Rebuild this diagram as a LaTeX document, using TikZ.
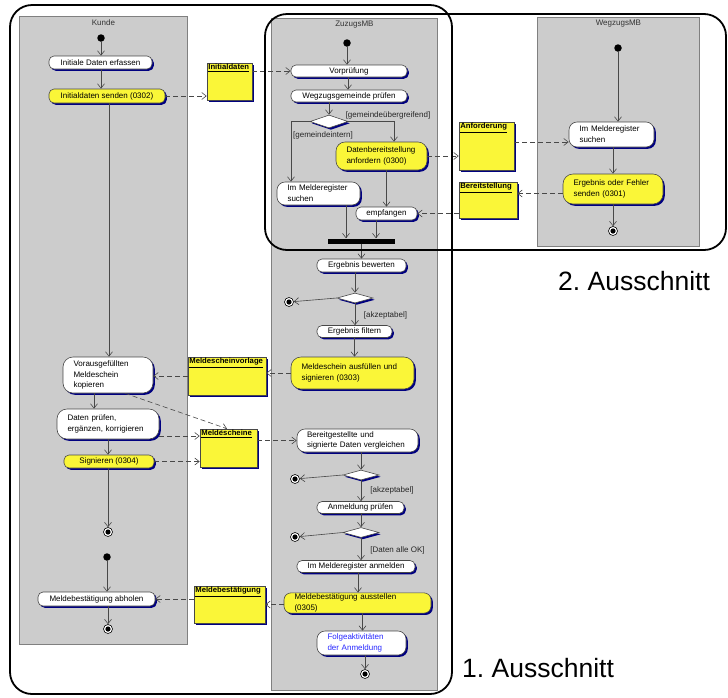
\documentclass[tikz,border=0pt]{standalone}
\usepackage{fontspec}
\setmainfont{Liberation Sans}
\usetikzlibrary{arrows.meta,shapes.geometric,shadows,calc}
\definecolor{ylw}{RGB}{250,246,56}
\definecolor{lanec}{RGB}{204,204,204}
\definecolor{laneb}{RGB}{128,128,128}
\definecolor{linec}{RGB}{72,72,72}
\definecolor{shad}{RGB}{0,0,128}
\definecolor{bluetxt}{RGB}{40,40,255}
\newcommand\dfont{\fontsize{8}{10.8}\selectfont}
\newcommand\tfont{\fontsize{7.7}{9}\selectfont\bfseries}
\begin{document}
\begin{tikzpicture}[x=1pt,y=-1pt,
  sz/.style 2 args={minimum width=#1pt,minimum height=#2pt},
  ml/.style={align=left,text width=#1pt},
  shd/.style={drop shadow={shadow xshift=1.8pt,shadow yshift=-1.8pt,fill=shad,opacity=1}},
  act/.style={shd,draw=linec,line width=0.6pt,fill=white,font=\dfont,inner sep=1pt,rounded corners=5pt},
  yact/.style={act,fill=ylw},
  obj/.style={shd,draw=linec,line width=0.6pt,fill=ylw,inner sep=0pt},
  otitle/.style={label={[anchor=north west,inner sep=1.5pt,font=\tfont]north west:\underline{#1}}},
  dec/.style={shd,diamond,draw=linec,line width=0.6pt,fill=white,inner sep=0pt},
  startn/.style={circle,fill=black,inner sep=0pt,minimum size=7.5pt},
  endn/.style={circle,draw=black,line width=0.6pt,fill=white,inner sep=0pt,minimum size=9pt,
    path picture={\fill[black] (path picture bounding box.center) circle (2.6pt);}},
  barn/.style={fill=black,inner sep=0pt},
  flow/.style={draw=linec,line width=0.6pt,-{Straight Barb[length=4.5pt,width=7pt]}},
  dflow/.style={flow,dash pattern=on 5pt off 3pt},
  lane/.style={draw=laneb,line width=0.8pt,fill=lanec,inner sep=0pt},
  lanelbl/.style={anchor=north,inner sep=0pt,yshift=-3pt,font=\dfont,text=black!80},
  lbl/.style={inner sep=0pt,font=\dfont,text=black!85},
  frame/.style={draw=black,line width=1.8pt,rounded corners=22pt},
  big/.style={anchor=base west,inner sep=0pt,font=\fontsize{26.5}{30}\selectfont}
]
\useasboundingbox (0,0) rectangle (728,697);

% swimlanes
\node[lane,anchor=north west,sz={168}{628},label={[lanelbl]north:Kunde}] (lk) at (19,16) {};
\node[lane,anchor=north west,sz={166}{672},label={[lanelbl]north:ZuzugsMB}] (lz) at (271,18) {};
\node[lane,anchor=north west,sz={162}{229},label={[lanelbl]north:WegzugsMB}] (lw) at (537,17) {};

% Kunde
\node[startn] (k0) at (101,38) {};
\node[act,sz={103}{13}] (k1) at (100.5,62.5) {Initiale Daten erfassen};
\node[yact,sz={116}{14}] (k2) at (107,96) {Initialdaten senden (0302)};
\node[act,sz={90}{36},rounded corners=10pt,ml=69] (k3) at (108,375) {Vorausgefüllten\\Meldeschein\\kopieren};
\node[act,sz={102}{30},rounded corners=10pt,ml=81] (k4) at (108,424) {Daten prüfen,\\ergänzen, korrigieren};
\node[yact,sz={90}{13}] (k5) at (109,461.5) {Signieren (0304)};
\node[endn] (k6) at (108,532) {};
\node[startn] (k7) at (107,557) {};
\node[act,sz={117}{14}] (k8) at (96.5,599) {Meldebestätigung abholen};
\node[endn] (k9) at (108,629) {};

% objects
\node[obj,sz={45}{37},otitle=Initialdaten] (o1) at (229.5,81.5) {};
\node[obj,sz={78}{38},otitle=Meldescheinvorlage] (o2) at (227,376) {};
\node[obj,sz={57}{38},otitle=Meldescheine] (o3) at (228.5,448) {};
\node[obj,sz={71}{37},otitle=Meldebestätigung] (o4) at (229.5,604.5) {};
\node[obj,sz={55}{48},otitle=Anforderung] (o5) at (486.5,146) {};
\node[obj,sz={58}{36},otitle=Bereitstellung] (o6) at (488,200) {};

% ZuzugsMB
\node[startn] (z0) at (347,43) {};
\node[act,sz={116}{12}] (z1) at (349,71) {Vorprüfung};
\node[act,sz={116}{12}] (z2) at (349,96) {Wegzugsgemeinde prüfen};
\node[dec,sz={38}{13}] (zd1) at (329,121.5) {};
\node[yact,sz={91}{28},rounded corners=9pt,ml=70] (z3) at (381.5,156) {Datenbereitstellung\\anfordern (0300)};
\node[act,sz={83}{23},rounded corners=8pt,ml=62] (z4) at (318.5,193.5) {Im Melderegister\\suchen};
\node[act,sz={61}{13}] (z5) at (386.5,213.5) {empfangen};
\node[barn,sz={67}{5}] (zb) at (361.5,241) {};
\node[act,sz={89}{13}] (z6) at (361.5,265.5) {Ergebnis bewerten};
\node[dec,sz={36}{10}] (zd2) at (355,298) {};
\node[endn] (ze1) at (289,302) {};
\node[act,sz={75}{12}] (z7) at (354.5,331.5) {Ergebnis filtern};
\node[yact,sz={123}{32},rounded corners=10pt,ml=102] (z8) at (352.5,373) {Meldeschein ausfüllen und\\signieren (0303)};
\node[act,sz={121}{23},rounded corners=8pt,ml=101] (z9) at (357.5,440.5) {Bereitgestellte und\\signierte Daten vergleichen};
\node[dec,sz={36}{10}] (zd3) at (361,475) {};
\node[endn] (ze2) at (295,479) {};
\node[act,sz={87}{12}] (z10) at (360.5,507.5) {Anmeldung prüfen};
\node[dec,sz={36}{10}] (zd4) at (361,532.5) {};
\node[endn] (ze3) at (295,537) {};
\node[act,sz={118}{12}] (z11) at (356,566.5) {Im Melderegister anmelden};
\node[yact,sz={147}{20},rounded corners=7pt,ml=126] (z12) at (357.5,603) {Meldebestätigung ausstellen\\(0305)};
\node[act,sz={89}{24},rounded corners=8pt,ml=68,text=bluetxt] (z13) at (361.5,643) {Folgeaktivitäten\\der Anmeldung};
\node[endn] (ze4) at (365,674) {};

% WegzugsMB
\node[startn] (w0) at (618,48) {};
\node[act,sz={85}{25},rounded corners=8pt,ml=64] (w1) at (611.5,134.5) {Im Melderegister\\suchen};
\node[yact,sz={100}{30},rounded corners=10pt,ml=79] (w2) at (613,189) {Ergebnis oder Fehler\\senden (0301)};
\node[endn] (we) at (613,231) {};

% guard labels
\node[lbl] (c1) at (323,135) {[gemeindeintern]};
\node[lbl] (c2) at (388,115) {[gemeindeübergreifend]};
\node[lbl] (c3) at (385.5,315) {[akzeptabel]};
\node[lbl] (c4) at (392,490.5) {[akzeptabel]};
\node[lbl] (c5) at (397.5,550.5) {[Daten alle OK]};

% control flows Kunde
\draw[flow] (k0) -- (k0 |- k1.north);
\draw[flow] (k1.south -| k0) -- (k2.north -| k0);
\draw[flow] ([xshift=1pt]k3.north |- k2.south) -- ([xshift=1pt]k3.north);
\draw[flow] ([xshift=-14pt]k3.south) -- ([xshift=-14pt]k3.south |- k4.north);
\draw[flow] (k4.south) -- (k4.south |- k5.north);
\draw[flow] (k5.south -| k6) -- (k6);
\draw[flow] (k7) -- (k7 |- k8.north);
\draw[flow] (k8.south -| k9) -- (k9);

% control flows ZuzugsMB
\draw[flow] (z0) -- (z0 |- z1.north);
\draw[flow] ([xshift=-1pt]z1.south) -- ([xshift=-1pt]z2.north);
\draw[flow] (z2.south -| zd1) -- (zd1.north);
\draw[flow] (zd1.west) -| ([xshift=-27.5pt]z4.north);
\draw[flow] (zd1.east) -| ([xshift=12.5pt]z3.north);
\draw[flow] (z3.south -| z5.north) -- (z5.north);
\draw[flow] ([xshift=27.5pt]z4.south) -- ([xshift=27.5pt]z4.south |- zb.north);
\draw[flow] ([xshift=-10.5pt]z5.south) -- ([xshift=-10.5pt]z5.south |- zb.north);
\draw[flow] (zb.south -| z6.north) -- (z6.north);
\draw[flow] (z6.south -| zd2.north) -- (zd2.north);
\draw[flow] (zd2.west) -- (ze1);
\draw[flow] (zd2.south) -- (zd2.south |- z7.north);
\draw[flow] (z7.south) -- (z7.south |- z8.north);
\draw[flow] (z9.south -| zd3.north) -- (zd3.north);
\draw[flow] (zd3.west) -- (ze2);
\draw[flow] (zd3.south) -- (zd3.south |- z10.north);
\draw[flow] (z10.south -| zd4.north) -- (zd4.north);
\draw[flow] (zd4.west) -- (ze3);
\draw[flow] (zd4.south) -- (zd4.south |- z11.north);
\draw[flow] ([xshift=2pt]z11.south) -- ([xshift=2pt]z11.south |- z12.north);
\draw[flow] ([xshift=5pt]z12.south) -- ([xshift=5pt]z12.south |- z13.north);
\draw[flow] (z13.south -| ze4) -- (ze4);

% control flows WegzugsMB
\draw[flow] (w0) -- (w0 |- w1.north);
\draw[flow] (w1.south -| we) -- (w2.north -| we);
\draw[flow] (w2.south -| we) -- (we);

% object flows
\coordinate (w1in) at ([yshift=-7.5pt]w1.west);
\coordinate (w2out) at ([yshift=-4.5pt]w2.west);
\draw[dflow] (k2.east) -- (k2.east -| o1.west);
\draw[dflow] (z1.west -| o1.east) -- (z1.west);
\draw[dflow] (z3.east) -- (z3.east -| o5.west);
\draw[dflow] (w1in -| o5.east) -- (w1in);
\draw[dflow] (w2out) -- (w2out -| o6.east);
\draw[dflow] (z5.east -| o6.west) -- (z5.east);
\draw[dflow] (z8.west) -- (z8.west -| o2.east);
\draw[dflow] (o2.west) -- (o2.west -| k3.east);
\draw[dflow] ([xshift=17pt]k3.south) -- ([xshift=-1.5pt]o3.north);
\draw[dflow] ([yshift=-12pt]k4.east) -- ([yshift=-12pt]k4.east -| o3.west);
\draw[dflow] (k5.east) -- (k5.east -| o3.west);
\draw[dflow] (z9.west -| o3.east) -- (z9.west);
\draw[dflow] (z12.west |- o4.east) -- (o4.east);
\draw[dflow] (k8.east -| o4.west) -- (k8.east);

% frames
\draw[frame] (10,5) rectangle (452,694);
\draw[frame] (265,14) rectangle (726,250);
\node[big] (t2) at (558,290) {2.\ Ausschnitt};
\node[big] (t1) at (462,677) {1.\ Ausschnitt};
\end{tikzpicture}
\end{document}
